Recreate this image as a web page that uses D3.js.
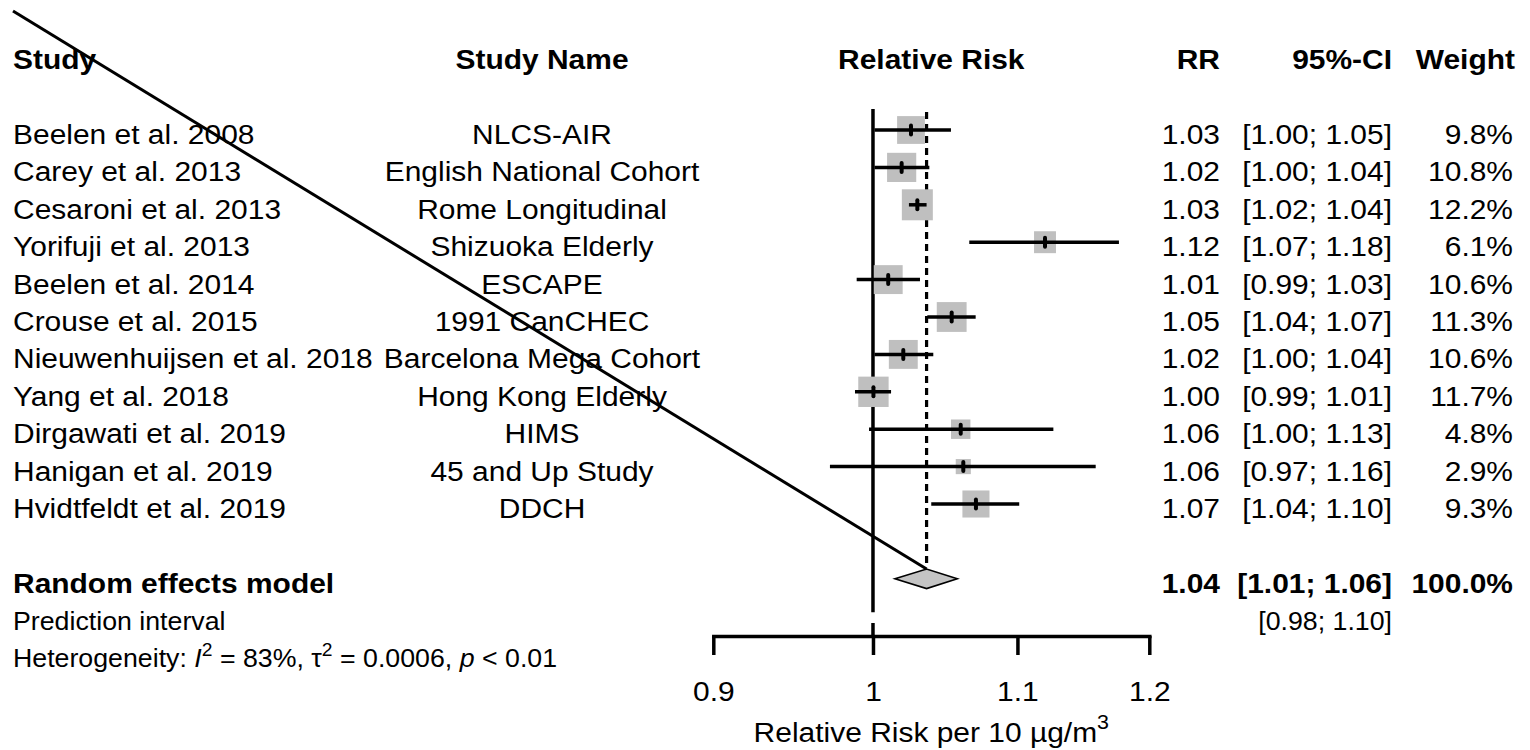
<!DOCTYPE html>
<html>
<head>
<meta charset="utf-8">
<script src="https://cdn.jsdelivr.net/npm/d3@7"></script>
<style>
  html, body { margin: 0; padding: 0; background: #fff; }
  svg { display: block; }
</style>
</head>
<body>
<svg id="chart"></svg>
<script>
// ---- Study-level data (PM2.5 and mortality, relative risk per 10 µg/m3) ----
const studies = [
  "Beelen et al. 2008", "Carey et al. 2013", "Cesaroni et al. 2013", "Yorifuji et al. 2013",
  "Beelen et al. 2014", "Crouse et al. 2015", "Nieuwenhuijsen et al. 2018", "Yang et al. 2018",
  "Dirgawati et al. 2019", "Hanigan et al. 2019", "Hvidtfeldt et al. 2019"
];
const studyNames = [
  "NLCS-AIR", "English National Cohort", "Rome Longitudinal", "Shizuoka Elderly",
  "ESCAPE", "1991 CanCHEC", "Barcelona Mega Cohort", "Hong Kong Elderly",
  "HIMS", "45 and Up Study", "DDCH"
];
const rr      = [1.0254, 1.0191, 1.0297, 1.1202, 1.0101, 1.0533, 1.0202, 1.0003, 1.0596, 1.0614, 1.0703];
const ciLower = [1.001, 1.001, 1.024, 1.0656, 0.9893, 1.0365, 1.001, 0.9882, 0.9974, 0.972, 1.0392];
const ciUpper = [1.0528, 1.0379, 1.036, 1.1762, 1.0315, 1.0701, 1.0406, 1.012, 1.1264, 1.1583, 1.1013];
const weights = [9.8, 10.8, 12.2, 6.1, 10.6, 11.3, 10.6, 11.7, 4.8, 2.9, 9.3];

// ---- Pooled estimate ----
const pooledRR = 1.036;
const pooledLower = 1.0146;
const pooledUpper = 1.0572;
const pooledWeight = 100;
const predictionInterval = [0.98, 1.10];
const hetI2 = 83;
const hetTau2 = "0.0006";
const hetP = "< 0.01";

// ---- Axis ----
const axisTicks = [0.9, 1, 1.1, 1.2];
const axisTitle = "Relative Risk per 10 µg/m";
const headers = ["Study", "Study Name", "Relative Risk", "RR", "95%-CI", "Weight"];

// ---- Layout ----
const W = 1530, H = 750;
const FONT = "'Liberation Sans', Arial, Helvetica, sans-serif";
const FS = 28, FS_SMALL = 25, SX = 1.07;
const colStudy = 13, colName = 542, colRR = 1220, colCI = 1392, colW = 1513;
const axisY = 636;
const LW = 3.5;

const svg = d3.select("#chart")
  .attr("width", W).attr("height", H)
  .attr("font-family", FONT)
  .style("background", "#fff");

const x = d3.scaleLog().domain([0.9, 1.2]).range([713.3, 1149.3]);
// row index -> vertical centre of the row
const y = d3.scaleLinear().domain([0, 1]).range([130, 167.4]);
const boxSize = d3.scaleSqrt().domain([0, d3.max(weights)]).range([0, 31]);

const fmt2 = v => v.toFixed(2);
const fmtCI = (lo, hi) => `[${fmt2(lo)}; ${fmt2(hi)}]`;

function label(parent, px, py, str, o = {}) {
  return parent.append("text")
    .attr("transform", `translate(${px},${py}) scale(${SX},1)`)
    .attr("text-anchor", o.anchor || "start")
    .attr("font-size", o.size || FS)
    .attr("font-weight", o.bold ? "bold" : null)
    .attr("fill", "#000")
    .text(str);
}

const nRows = studies.length;
const pooledRow = nRows + 1;
const baseOff = 14;

// ---- Reference line (RR = 1) and pooled-estimate line ----
const lines = svg.append("g");
lines.append("line")
  .attr("x1", x(1)).attr("x2", x(1))
  .attr("y1", y(0) - 21).attr("y2", y(pooledRow + 1) - 4)
  .attr("stroke", "#000").attr("stroke-width", LW);
lines.append("line")
  .attr("x1", x(1)).attr("x2", x(1))
  .attr("y1", axisY - 13).attr("y2", axisY)
  .attr("stroke", "#000").attr("stroke-width", LW);
lines.append("line")
  .attr("x1", x(pooledRR)).attr("x2", x(pooledRR))
  .attr("y1", y(0) - 18).attr("y2", y(pooledRow) - 13)
  .attr("stroke", "#000").attr("stroke-width", 3.2)
  .attr("stroke-dasharray", "7,5");

// ---- Study markers ----
const marks = svg.append("g");
studies.forEach((s, i) => {
  const cy = y(i), cx = x(rr[i]), sz = boxSize(weights[i]);
  marks.append("rect")
    .attr("x", cx - sz / 2).attr("y", cy - sz / 2)
    .attr("width", sz).attr("height", sz)
    .attr("fill", "#bfbfbf");
  marks.append("line")
    .attr("x1", x(ciLower[i])).attr("x2", x(ciUpper[i]))
    .attr("y1", cy).attr("y2", cy)
    .attr("stroke", "#000").attr("stroke-width", LW);
  marks.append("line")
    .attr("x1", cx).attr("x2", cx)
    .attr("y1", cy - 4.5).attr("y2", cy + 4.5)
    .attr("stroke", "#000").attr("stroke-width", 4)
    .attr("stroke-linecap", "round");
});

// ---- Pooled diamond ----
const dy0 = y(pooledRow), dh = 9.8;
svg.append("polygon")
  .attr("points", [
    [x(pooledLower), dy0], [x(pooledRR), dy0 - dh],
    [x(pooledUpper), dy0], [x(pooledRR), dy0 + dh]
  ].map(p => p.join(",")).join(" "))
  .attr("fill", "#c4c4c4").attr("stroke", "#000").attr("stroke-width", 1.6);

// ---- Header ----
const hy = y(-2) + baseOff;
const txt = svg.append("g");
label(txt, colStudy, hy, headers[0], { bold: true });
label(txt, colName, hy, headers[1], { bold: true, anchor: "middle" });
label(txt, (x.range()[0] + x.range()[1]) / 2, hy, headers[2], { bold: true, anchor: "middle" });
label(txt, colRR, hy, headers[3], { bold: true, anchor: "end" });
label(txt, colCI, hy, headers[4], { bold: true, anchor: "end" });
label(txt, colW + 2, hy, headers[5], { bold: true, anchor: "end" });

// ---- Study rows ----
studies.forEach((s, i) => {
  const by = y(i) + baseOff;
  label(txt, colStudy, by, s);
  label(txt, colName, by, studyNames[i], { anchor: "middle" });
  label(txt, colRR, by, fmt2(rr[i]), { anchor: "end" });
  label(txt, colCI, by, fmtCI(ciLower[i], ciUpper[i]), { anchor: "end" });
  label(txt, colW, by, weights[i].toFixed(1) + "%", { anchor: "end" });
});

// ---- Pooled rows ----
const py = y(pooledRow) + baseOff;
label(txt, colStudy, py, "Random effects model", { bold: true });
label(txt, colRR, py, fmt2(pooledRR), { bold: true, anchor: "end" });
label(txt, colCI, py, fmtCI(pooledLower, pooledUpper), { bold: true, anchor: "end" });
label(txt, colW, py, pooledWeight.toFixed(1) + "%", { bold: true, anchor: "end" });

const predY = y(pooledRow + 1) + 13.5;
label(txt, colStudy, predY, "Prediction interval", { size: FS_SMALL });
label(txt, colCI, predY, fmtCI(predictionInterval[0], predictionInterval[1]), { size: FS_SMALL, anchor: "end" });

const hetY = y(pooledRow + 2) + 13.5;
const het = label(txt, colStudy, hetY, "", { size: FS_SMALL });
het.append("tspan").text("Heterogeneity: ");
het.append("tspan").attr("font-style", "italic").text("I");
het.append("tspan").attr("font-size", 18).attr("dy", -11).text("2");
het.append("tspan").attr("dy", 11).text(` = ${hetI2}%, τ`);
het.append("tspan").attr("font-size", 18).attr("dy", -11).text("2");
het.append("tspan").attr("dy", 11).text(` = ${hetTau2}, `);
het.append("tspan").attr("font-style", "italic").text("p");
het.append("tspan").text(` ${hetP}`);

// ---- X axis ----
const axisG = svg.append("g")
  .attr("transform", `translate(0,${axisY})`)
  .call(d3.axisBottom(x).tickValues(axisTicks).tickFormat(d => String(d))
    .tickSize(19).tickSizeOuter(0));
axisG.attr("font-family", FONT);
axisG.select(".domain").attr("stroke", "#000").attr("stroke-width", LW).attr("stroke-linecap", "square");
axisG.selectAll(".tick line").attr("stroke", "#000").attr("stroke-width", LW);
axisG.selectAll(".tick text")
  .attr("y", 65).attr("dy", null)
  .attr("font-size", FS).attr("fill", "#000")
  .attr("transform", `scale(${SX},1)`);

const at = label(svg, (x.range()[0] + x.range()[1]) / 2, 742, "", { anchor: "middle" });
at.append("tspan").text(axisTitle);
at.append("tspan").attr("font-size", 20).attr("dy", -13).text("3");

// ---- Straight stroke from the top-left corner to the diamond apex ----
svg.append("line")
  .attr("x1", colStudy).attr("y1", 11)
  .attr("x2", x(pooledRR)).attr("y2", dy0 - dh)
  .attr("stroke", "#000").attr("stroke-width", 3);
</script>
</body>
</html>
